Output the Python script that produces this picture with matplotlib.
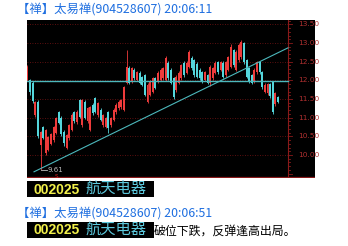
import matplotlib
matplotlib.use("Agg")
import matplotlib.pyplot as plt
from matplotlib.patches import Rectangle
import numpy as np

plt.rcParams['font.family'] = ['Noto Sans CJK SC', 'DejaVu Sans']

# ---- data ----
opens = [12.00, 12.00, 11.92, 11.08, 11.42, 10.28, 10.75, 10.05, 10.14, 10.30,
         10.40, 10.60, 11.15, 11.00, 10.62, 10.20, 10.45, 10.68, 11.14, 10.88,
         11.47, 10.80, 11.42, 10.90, 10.67, 11.34, 11.52, 11.07, 11.21, 10.80,
         10.75, 11.15, 10.80, 10.94, 11.15, 11.25, 11.28, 11.21, 11.93, 12.33,
         11.96, 12.28, 12.02, 12.20, 12.08, 12.14, 11.42, 11.61, 11.69, 12.06,
         11.96, 12.01, 12.06, 12.01, 12.47, 12.28, 12.06, 11.74, 11.93, 12.06,
         12.47, 12.20, 12.36, 12.60, 12.54, 12.44, 12.28, 12.22, 12.01, 12.14,
         11.93, 12.06, 12.20, 12.49, 12.28, 12.47, 12.14, 12.28, 12.36, 12.81,
         12.28, 12.54, 12.62, 13.00, 12.54, 12.33, 12.14, 11.96, 12.22, 12.49,
         12.22, 11.69, 11.66, 11.90, 11.95, 11.36, 11.55]
highs = [12.40, 12.03, 11.97, 11.45, 11.46, 10.65, 10.78, 10.70, 10.52, 10.60,
         10.78, 11.02, 11.18, 11.04, 10.66, 10.57, 10.84, 11.12, 11.18, 11.20,
         11.50, 11.50, 11.46, 11.28, 11.32, 11.38, 11.56, 11.42, 11.25, 11.10,
         11.02, 11.18, 11.02, 11.25, 11.38, 11.46, 11.50, 11.86, 12.81, 12.38,
         12.37, 12.32, 12.26, 12.24, 12.12, 12.18, 11.92, 12.00, 12.10, 12.10,
         12.24, 12.32, 12.37, 12.64, 12.51, 12.32, 12.10, 12.13, 12.24, 12.45,
         12.51, 12.51, 12.80, 12.64, 12.58, 12.48, 12.32, 12.26, 12.26, 12.18,
         12.40, 12.37, 12.51, 12.53, 12.53, 12.51, 12.53, 12.66, 12.96, 12.85,
         12.80, 12.99, 13.08, 13.04, 12.58, 12.37, 12.18, 12.32, 12.53, 12.53,
         12.26, 11.92, 11.94, 11.94, 11.99, 11.69, 11.58]
lows = [11.97, 11.62, 11.40, 11.02, 10.45, 9.61, 10.42, 10.00, 10.10, 10.26,
        10.36, 10.56, 10.82, 10.50, 10.25, 10.16, 10.40, 10.64, 10.86, 10.84,
        10.98, 10.76, 10.96, 10.86, 10.63, 11.08, 11.12, 11.03, 10.90, 10.76,
        10.71, 10.58, 10.76, 10.90, 11.11, 11.21, 11.24, 11.17, 11.90, 11.89,
        11.92, 12.01, 11.98, 11.89, 11.84, 11.57, 11.40, 11.57, 11.65, 11.76,
        11.92, 11.97, 12.02, 11.97, 12.02, 11.89, 11.51, 11.70, 11.89, 12.02,
        12.10, 12.16, 12.32, 12.29, 12.10, 12.05, 12.02, 11.92, 11.97, 11.89,
        11.85, 12.02, 12.16, 12.18, 12.24, 12.05, 12.10, 12.24, 12.32, 12.37,
        12.24, 12.50, 12.58, 12.45, 12.05, 11.92, 11.89, 11.92, 12.18, 12.18,
        11.78, 11.65, 11.62, 11.52, 11.10, 11.32, 11.40]
closes = [12.35, 11.68, 11.45, 11.42, 10.50, 10.62, 10.46, 10.67, 10.48, 10.55,
          10.75, 10.98, 10.86, 10.55, 10.32, 10.54, 10.80, 11.08, 10.90, 11.15,
          11.02, 11.47, 11.00, 11.25, 11.28, 11.12, 11.16, 11.38, 10.94, 11.07,
          10.98, 10.72, 10.98, 11.21, 11.34, 11.42, 11.47, 11.82, 12.36, 11.93,
          12.33, 12.05, 12.22, 11.93, 11.88, 11.61, 11.88, 11.96, 12.06, 11.80,
          12.20, 12.28, 12.33, 12.60, 12.06, 11.93, 11.55, 12.09, 12.20, 12.41,
          12.14, 12.47, 12.76, 12.33, 12.14, 12.09, 12.06, 11.96, 12.22, 11.93,
          12.36, 12.33, 12.47, 12.22, 12.49, 12.09, 12.49, 12.62, 12.89, 12.41,
          12.76, 12.95, 13.03, 12.49, 12.09, 11.96, 11.93, 12.28, 12.49, 12.22,
          11.82, 11.88, 11.90, 11.58, 11.14, 11.66, 11.42]

price_ticks = [10.00, 10.50, 11.00, 11.50, 12.00, 12.50, 13.00, 13.50]
support_level = 11.97
trend_start = (2.5, 9.55)
trend_end = (99.85, 12.87)
low_label = "9.61"

header1 = "【禅】太易禅(904528607) 20:06:11"
header2 = "【禅】太易禅(904528607) 20:06:51"
stock_code = "002025"
stock_name = "航天电器"
comment = "破位下跌，反弹逢高出局。"

# ---- figure ----
W, H = 348, 246
fig = plt.figure(figsize=(W / 100, H / 100), dpi=100)
fig.patch.set_facecolor('white')


def fx(x):
    return x / W


def fy(y):
    return 1 - y / H


ax = fig.add_axes([fx(27), fy(178), fx(288), 158 / H])
ax.set_facecolor('black')
for s in ax.spines.values():
    s.set_visible(False)
ax.set_xticks([])
ax.set_yticks([])

n = len(opens)
idx = np.arange(n)
o = np.array(opens)
c = np.array(closes)
up = c >= o
red = '#ee3b3b'
cyan = '#54d6dc'
cols = np.where(up, red, cyan)

ax.vlines(idx, lows, highs, colors=cols, linewidth=0.6, zorder=3)
ax.bar(idx, np.abs(c - o), bottom=np.minimum(o, c), width=0.75,
       color=cols, linewidth=0, zorder=4)

axis_x = 99.85
ax.set_xlim(-0.19, 110.2)
ax.set_ylim(9.384, 13.616)

# grid and right price axis
grid_red = '#7a1414'
for p in price_ticks:
    ax.plot([-0.19, axis_x], [p, p], color=grid_red, linewidth=0.6,
            linestyle=(0, (1, 2)), zorder=1)
    ax.text(axis_x + 3.8, p, f"{p:.2f}", color='#b03030', fontsize=5.3,
            va='center', ha='left', family='DejaVu Sans')
ax.axvline(axis_x, color='#8a1a1a', linewidth=0.8, zorder=2)
for p in np.arange(9.4, 13.61, 0.1):
    major = abs(p * 2 - round(p * 2)) < 1e-6
    ax.plot([axis_x, axis_x + (1.6 if major else 0.9)], [p, p],
            color='#8a1a1a', linewidth=0.6)
ax.axhline(9.415, color='#8a1a1a', linewidth=0.9)

# support and trend lines
line_c = '#4cb8bc'
ax.plot([-0.19, axis_x], [support_level, support_level], color=line_c,
        linewidth=1.0, zorder=5)
ax.plot([trend_start[0], trend_end[0]], [trend_start[1], trend_end[1]],
        color=line_c, linewidth=0.8, zorder=5)

# low marker
lo_i = int(np.argmin(lows))
ax.plot([lo_i, lo_i + 2.6], [lows[lo_i], lows[lo_i]], color='#bbbbbb',
        linewidth=0.6, zorder=6)
ax.text(lo_i + 2.7, lows[lo_i], low_label, color='#bbbbbb', fontsize=5,
        va='center', ha='left', family='DejaVu Sans')
ax.text(lo_i + 6.0, 9.43, "S", color='#d02020', fontsize=4, va='center',
        ha='center', family='DejaVu Sans')

# ---- chat texts ----
blue = '#1f6fe0'
fig.text(fx(17), fy(9.5), header1, color=blue, fontsize=8.9, va='center', ha='left')
fig.text(fx(17), fy(213), header2, color=blue, fontsize=8.9, va='center', ha='left')

for top in (181, 222):
    fig.patches.append(Rectangle((fx(27), fy(top + 16)), fx(127), 16 / H,
                                 transform=fig.transFigure, facecolor='black',
                                 edgecolor='none'))
    fig.text(fx(34), fy(top + 8.5), stock_code, color='#f2f04a', fontsize=10,
             fontweight='bold', family='Liberation Sans', va='center', ha='left')
    fig.text(fx(85), fy(top + 7.5), stock_name, color='#5cc8dc', fontsize=11,
             va='center', ha='left')

fig.text(fx(154), fy(231), comment, color='black', fontsize=8.6,
         va='center', ha='left')

fig.savefig('out.png', dpi=100, facecolor='white')
